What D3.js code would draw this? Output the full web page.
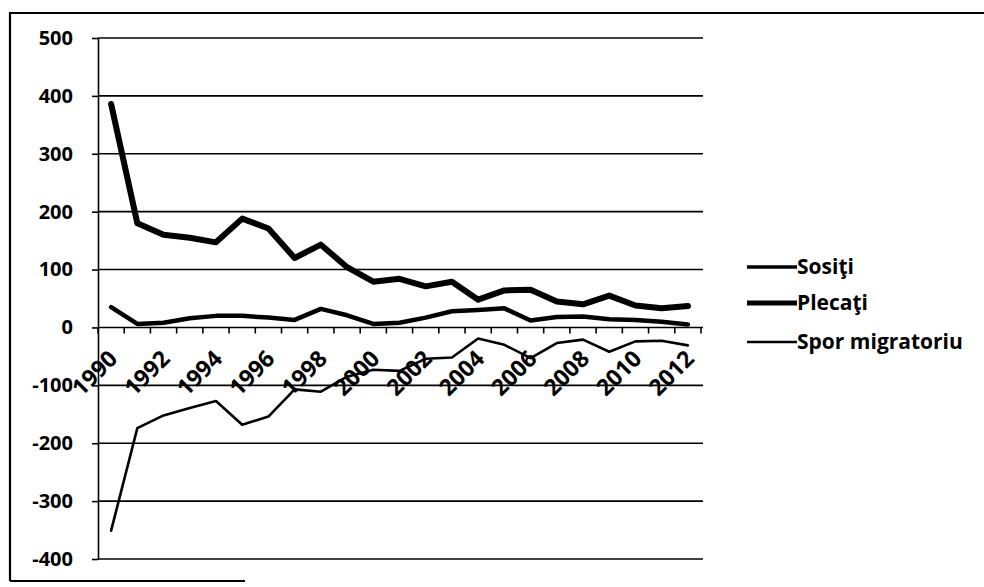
<!DOCTYPE html>
<html><head><meta charset="utf-8">
<script src="https://cdn.jsdelivr.net/npm/d3@7"></script>
<style>body{margin:0;background:#fff} svg{display:block}</style>
</head><body>
<svg id="c" width="984" height="587"></svg>
<script>
const years = ["1990","1991","1992","1993","1994","1995","1996","1997","1998","1999","2000","2001","2002","2003","2004","2005","2006","2007","2008","2009","2010","2011","2012"];
const sositi  = [35, 6, 8, 16, 20, 20, 17, 13, 32, 21, 6, 8, 17, 28, 30, 33, 12, 18, 19, 14, 13, 10, 5];
const plecati = [386, 180, 160, 155, 147, 188, 171, 120, 143, 104, 79, 84, 71, 79, 48, 64, 65, 45, 40, 55, 38, 33, 37];
const spor    = [-351, -174, -152, -139, -127, -168, -154, -107, -111, -85, -73, -75, -54, -52, -19, -30, -53, -27, -21, -42, -24, -23, -31];
const yTickValues = [500, 400, 300, 200, 100, 0, -100, -200, -300, -400];
const xTickLabels = ["1990","1992","1994","1996","1998","2000","2002","2004","2006","2008","2010","2012"];
const seriesNames = ["Sosiţi", "Plecaţi", "Spor migratoriu"];

const FONT = "'Open Sans', 'DejaVu Sans', sans-serif";
const svg = d3.select("#c");

const x = d3.scaleBand().domain(years).range([98, 701]);
const y = d3.scaleLinear().domain([-400, 500]).range([559, 38]);
const bw = x.bandwidth();
const xr = x.range();

// outer frame (scanned border)
svg.append("path")
  .attr("d", "M10,581 L10,13 L984,13 M10,581 L245,581")
  .attr("fill", "none").attr("stroke", "#000").attr("stroke-width", 2.2);

// gridlines
svg.append("g").selectAll("line").data(yTickValues).join("line")
  .attr("x1", xr[0]).attr("x2", xr[1] + 2)
  .attr("y1", d => y(d)).attr("y2", d => y(d))
  .attr("stroke", "#000").attr("stroke-width", 1.6);

// y axis
const ya = svg.append("g").attr("transform", `translate(${xr[0]},0)`)
  .call(d3.axisLeft(y).tickValues(yTickValues).tickFormat(d => String(d))
    .tickSize(6).tickSizeOuter(0).tickPadding(19));
ya.select(".domain").attr("stroke", "#000").attr("stroke-width", 1.6);
ya.selectAll(".tick line").attr("stroke", "#000").attr("stroke-width", 1.6);
ya.selectAll(".tick text").attr("font-family", FONT).attr("font-weight", "bold")
  .attr("font-size", 20).attr("fill", "#000");

// x axis ticks at band boundaries
const tickPos = years.map(d => x(d)).concat([xr[1]]);
svg.append("g").selectAll("line").data(tickPos).join("line")
  .attr("x1", d => d).attr("x2", d => d)
  .attr("y1", y(0)).attr("y2", y(0) + 6)
  .attr("stroke", "#000").attr("stroke-width", 1.6);

// x labels rotated
svg.append("g").selectAll("text").data(xTickLabels).join("text")
  .attr("transform", d => `translate(${x(d) + bw / 2 + 2},${y(0) + 27}) rotate(-45)`)
  .attr("text-anchor", "end").attr("dy", "0.35em")
  .attr("font-family", FONT).attr("font-weight", "bold").attr("font-size", 23)
  .attr("fill", "#000").text(d => d);

// lines
const line = d3.line().x((d, i) => x(years[i]) + bw / 2).y(d => y(d));
const series = [
  {name: seriesNames[0], values: sositi, w: 4.5, lw: 3.5},
  {name: seriesNames[1], values: plecati, w: 6, lw: 5},
  {name: seriesNames[2], values: spor, w: 2.6, lw: 2.4}
];
svg.append("g").selectAll("path").data(series).join("path")
  .attr("d", d => line(d.values))
  .attr("fill", "none").attr("stroke", "#000")
  .attr("stroke-width", d => d.w)
  .attr("stroke-linejoin", "round").attr("stroke-linecap", "round");

// legend
const legY = [267, 303, 342];
const leg = svg.append("g").selectAll("g").data(series).join("g")
  .attr("transform", (d, i) => `translate(747,${legY[i]})`);
leg.append("line").attr("x1", 0).attr("x2", 50).attr("y1", 0).attr("y2", 0)
  .attr("stroke", "#000").attr("stroke-width", d => d.lw);
leg.append("text").attr("x", 50).attr("dy", "0.35em")
  .attr("font-family", FONT).attr("font-weight", "bold").attr("font-size", 21)
  .attr("fill", "#000").text(d => d.name);
</script>
</body></html>
